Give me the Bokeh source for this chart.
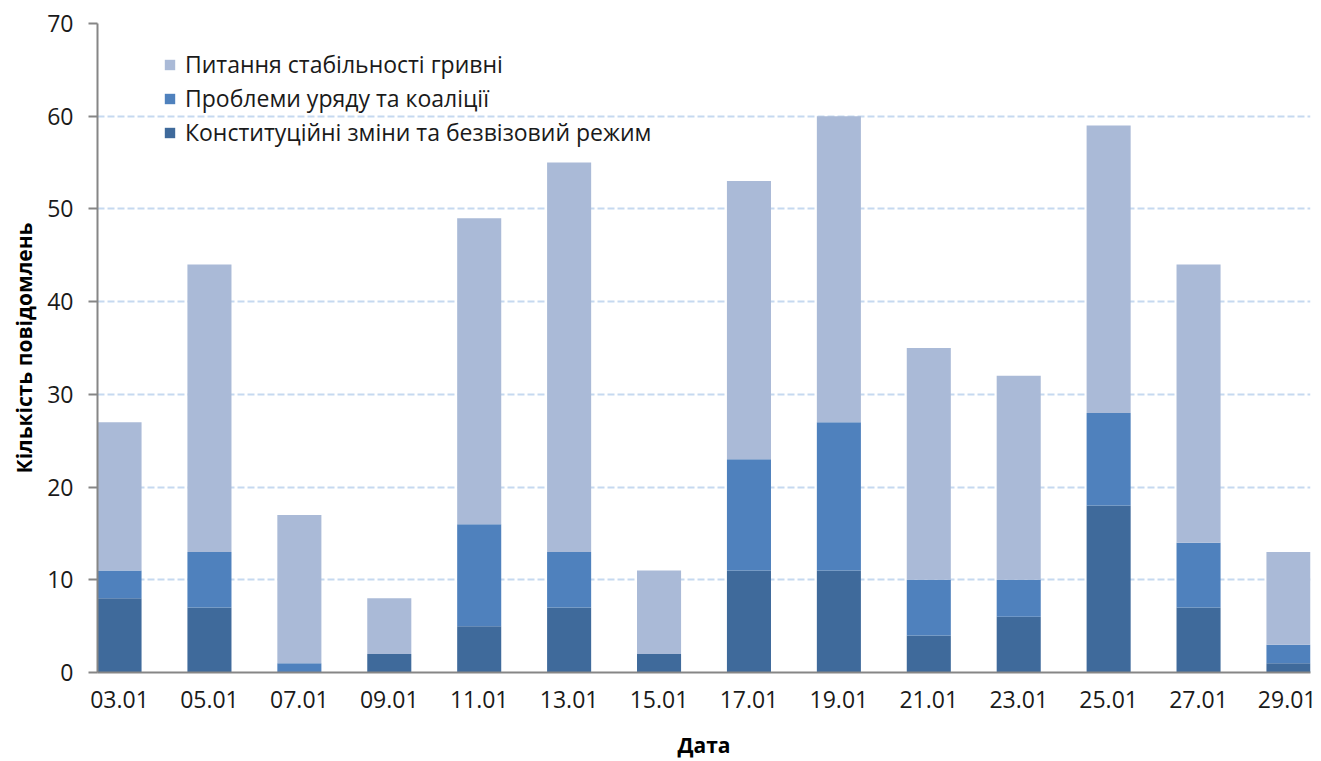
from bokeh.plotting import figure
from bokeh.models import Range1d, FixedTicker, Legend, LegendItem, ColumnDataSource
from bokeh.embed import file_html
from bokeh.resources import INLINE

dates = ["03.01", "05.01", "07.01", "09.01", "11.01", "13.01", "15.01",
         "17.01", "19.01", "21.01", "23.01", "25.01", "27.01", "29.01"]
constitution = [8, 7, 0, 2, 5, 7, 2, 11, 11, 4, 6, 18, 7, 1]
government = [3, 6, 1, 0, 11, 6, 0, 12, 16, 6, 4, 10, 7, 2]
hryvnia = [16, 31, 16, 6, 33, 42, 9, 30, 33, 25, 22, 31, 30, 10]

series_names = ["Конституційні зміни та безвізовий режим",
                "Проблеми уряду та коаліції",
                "Питання стабільності гривні"]
colors = ["#3F6A9B", "#4F81BD", "#AABAD7"]

FONT = "Open Sans"

src = ColumnDataSource(dict(x=list(range(len(dates))), c=constitution,
                            g=government, h=hryvnia))

p = figure(width=1316, height=761, output_backend="svg", toolbar_location=None,
           x_range=Range1d(-0.245, len(dates) - 1 + 0.245), y_range=Range1d(0, 70),
           min_border_left=97, min_border_right=6, min_border_top=23,
           min_border_bottom=88)
p.outline_line_color = None
p.background_fill_color = "white"

rs = p.vbar_stack(["c", "g", "h"], x="x", width=0.49, source=src,
                  color=colors, line_color=None)

p.xaxis.ticker = FixedTicker(ticks=list(range(len(dates))))
p.xaxis.major_label_overrides = {i: d for i, d in enumerate(dates)}
p.yaxis.ticker = FixedTicker(ticks=list(range(0, 71, 10)))

for ax in (p.xaxis, p.yaxis):
    ax.axis_line_color = "#868686"
    ax.axis_line_width = 2
    ax.major_label_text_font = FONT
    ax.major_label_text_font_size = "23px"
    ax.major_label_text_color = "#1a1a1a"
    ax.axis_label_text_font = FONT
    ax.axis_label_text_font_style = "bold"
    ax.axis_label_text_font_size = "21px"
    ax.axis_label_text_color = "black"
    ax.minor_tick_line_color = None

p.yaxis.major_tick_line_color = "#868686"
p.yaxis.major_tick_line_width = 2
p.yaxis.major_tick_out = 9
p.yaxis.major_tick_in = 0
p.yaxis.major_label_standoff = 15
p.yaxis.axis_label = "Кількість повідомлень"
p.yaxis.axis_label_standoff = 6

p.xaxis.major_tick_line_color = None
p.xaxis.major_tick_out = 0
p.xaxis.major_tick_in = 0
p.xaxis.major_label_standoff = 18
p.xaxis.axis_label = "Дата"
p.xaxis.axis_label_standoff = 20

p.xgrid.grid_line_color = None
p.ygrid.grid_line_color = "#C6D9F0"
p.ygrid.grid_line_width = 2
p.ygrid.grid_line_dash = "7 3"

items = [LegendItem(label=series_names[i], renderers=[rs[i]]) for i in (2, 1, 0)]
legend = Legend(items=items, location="top_left", margin=0, padding=0,
                glyph_width=13, glyph_height=13, label_height=13,
                label_standoff=9, spacing=2,
                label_text_font=FONT, label_text_font_size="23px",
                label_text_color="#1a1a1a",
                border_line_color=None, background_fill_alpha=0)
p.add_layout(legend, "center")
legend.location = (66, 524)

open("out.html", "w").write(file_html(p, INLINE))
